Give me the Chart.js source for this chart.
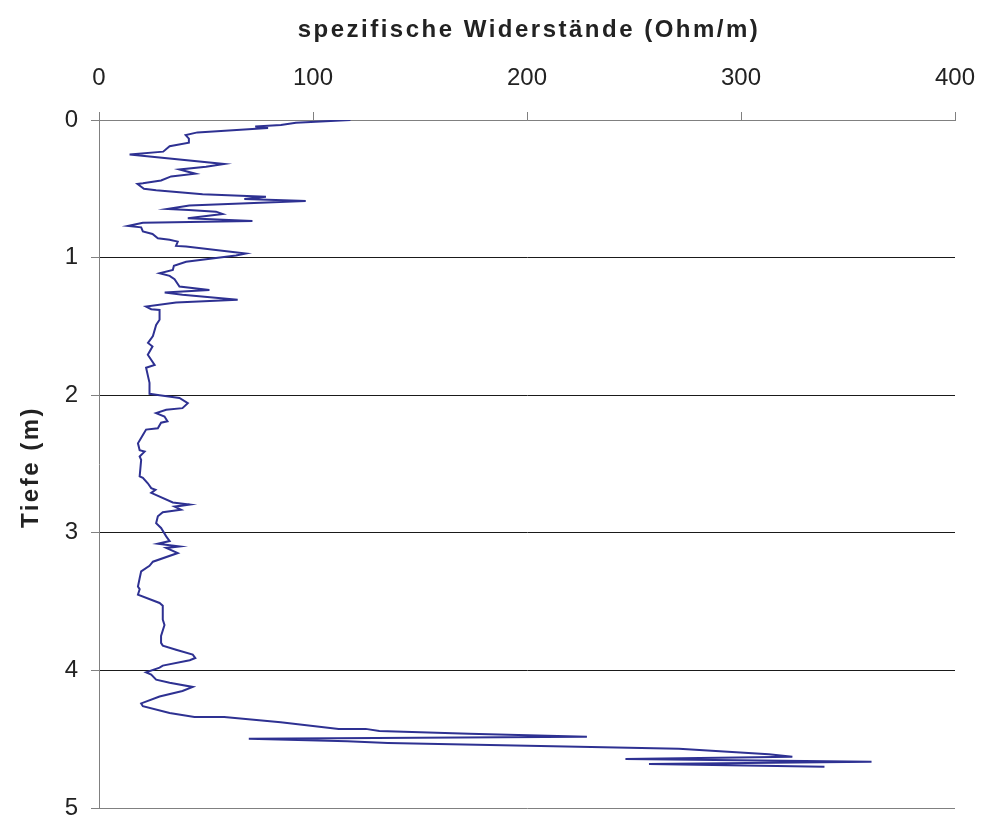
<!DOCTYPE html>
<html>
<head>
<meta charset="utf-8">
<title>spezifische Widerstände</title>
<script src="https://cdn.jsdelivr.net/npm/chart.js@4/dist/chart.umd.min.js"></script>
<style>
  html, body { margin: 0; padding: 0; background: #fff; }
  #wrap { width: 982px; height: 819px; }
</style>
</head>
<body>
<div id="wrap"><canvas id="resChart"></canvas></div>
<script>
// ===============================
// Data
// ===============================
const xTitle = "spezifische Widerstände (Ohm/m)";
const yTitle = "Tiefe (m)";
const xTickValues = [0, 100, 200, 300, 400];
const yTickValues = [0, 1, 2, 3, 4, 5];

// depth in m
const depths = [
    0.000, 0.020, 0.036, 0.048, 0.058, 0.090, 0.110, 0.135, 0.165, 0.190,
    0.230, 0.250, 0.320, 0.340, 0.360, 0.390, 0.410, 0.440, 0.460, 0.465,
    0.500, 0.510, 0.540, 0.557, 0.574, 0.586, 0.588, 0.622, 0.646, 0.654,
    0.666, 0.683, 0.714, 0.734, 0.746, 0.770, 0.780, 0.810, 0.828, 0.860,
    0.870, 0.884, 0.915, 0.920, 0.970, 0.985, 1.030, 1.060, 1.090, 1.114,
    1.133, 1.157, 1.210, 1.235, 1.247, 1.254, 1.270, 1.307, 1.327, 1.356,
    1.375, 1.380, 1.452, 1.489, 1.570, 1.620, 1.646, 1.706, 1.780, 1.800,
    1.910, 1.990, 2.000, 2.020, 2.058, 2.094, 2.106, 2.130, 2.155, 2.190,
    2.200, 2.240, 2.250, 2.290, 2.350, 2.400, 2.410, 2.445, 2.470, 2.590,
    2.600, 2.640, 2.675, 2.687, 2.710, 2.780, 2.795, 2.810, 2.832, 2.850,
    2.880, 2.930, 2.965, 3.026, 3.060, 3.080, 3.099, 3.110, 3.147, 3.210,
    3.240, 3.280, 3.330, 3.390, 3.410, 3.450, 3.510, 3.530, 3.630, 3.670,
    3.750, 3.800, 3.820, 3.850, 3.885, 3.910, 3.926, 3.965, 3.980, 4.014,
    4.030, 4.067, 4.090, 4.120, 4.150, 4.190, 4.240, 4.260, 4.310, 4.338,
    4.338, 4.377, 4.425, 4.425, 4.440, 4.460, 4.483, 4.497, 4.515, 4.527,
    4.556, 4.570, 4.610, 4.628, 4.643, 4.663, 4.680, 4.700
];

// resistivity in Ohm/m
const resistances = [
    117.5, 92, 85, 73, 79, 46, 40.5, 42, 42, 33,
    30, 14.3, 58.5, 50, 37.6, 45, 33.7, 29, 20.5, 18,
    21, 26.7, 48.4, 78, 67.9, 93.5, 96.6, 42.2, 32, 42,
    54.7, 57.8, 41.5, 71.7, 20.5, 13.5, 19.7, 20.5, 25, 27.5,
    33, 36.8, 36, 40.7, 68.6, 64, 40.7, 35, 34.5, 28.3,
    33, 35.3, 37.6, 51.6, 39, 30.7, 39, 64.8, 36, 22,
    24.4, 28.3, 28.3, 26.7, 25.2, 22.9, 25, 22.8, 26, 22,
    23.6, 23.6, 28.3, 37.6, 41.5, 39, 31.4, 26.7, 30.6, 32,
    29, 27.5, 22, 20.5, 18.2, 19, 21.3, 19, 19.7, 19,
    20.5, 22.8, 24.4, 26.4, 24.4, 34.5, 42.3, 35.3, 38.3, 29.8,
    27.5, 26.7, 29, 31.4, 33, 27.5, 37.6, 31.4, 36.8, 25.2,
    23.6, 19.7, 19, 18.2, 19, 18.2, 28.3, 29.8, 29.8, 30.6,
    29, 29, 29.8, 36, 43.8, 45, 42.4, 29.8, 28.3, 22,
    24.4, 26.7, 33, 43.8, 39, 28.3, 19.7, 20.5, 33, 44.6,
    58.5, 84.9, 112, 124.6, 131, 173, 228, 70, 116, 135,
    230, 271, 313, 324, 246, 361, 257, 339
];

// ===============================
// Axis titles (letter-spaced like the original)
// ===============================
const fontFamily = '"Liberation Sans", Arial, sans-serif';

const axisTitles = {
    id: "axisTitles",
    afterDraw(chart) {
        const { ctx, chartArea } = chart;
        ctx.save();
        ctx.font = "bold 24px " + fontFamily;
        ctx.letterSpacing = "2.5px";
        ctx.fillStyle = "#222";
        ctx.textAlign = "center";
        ctx.textBaseline = "alphabetic";
        ctx.fillText(xTitle, (chartArea.left + chartArea.right) / 2 + 2, 37);
        ctx.translate(38, (chartArea.top + chartArea.bottom) / 2 + 3);
        ctx.rotate(-Math.PI / 2);
        ctx.fillText(yTitle, 0, 0);
        ctx.restore();
    }
};

// ===============================
// Chart
// ===============================
const points = depths.map((d, i) => ({ x: resistances[i], y: d }));

new Chart(document.getElementById("resChart"), {
    type: "scatter",
    data: {
        datasets: [{
            data: points,
            showLine: true,
            borderColor: "#2e3192",
            borderWidth: 2,
            pointRadius: 0,
            tension: 0
        }]
    },
    options: {
        responsive: true,
        maintainAspectRatio: false,
        animation: false,
        layout: { padding: { top: 0, left: 0, right: 27, bottom: 11 } },
        plugins: {
            legend: { display: false },
            tooltip: { enabled: false }
        },
        scales: {
            x: {
                type: "linear",
                position: "top",
                min: 0,
                max: 400,
                afterBuildTicks: s => { s.ticks = xTickValues.map(v => ({ value: v })); },
                afterFit: s => {
                    s.height = 120;
                    s.paddingLeft = 0;
                    s.paddingRight = 0;
                },
                ticks: {
                    color: "#222",
                    font: { family: fontFamily, size: 24 },
                    padding: 19,
                    maxRotation: 0
                },
                grid: {
                    drawOnChartArea: false,
                    tickLength: 8,
                    tickColor: "#808080"
                },
                border: { color: "#808080", width: 1 }
            },
            y: {
                type: "linear",
                reverse: true,
                min: 0,
                max: 5,
                afterBuildTicks: s => { s.ticks = yTickValues.map(v => ({ value: v })); },
                afterFit: s => {
                    s.width = 99;
                    s.paddingTop = 0;
                    s.paddingBottom = 0;
                },
                ticks: {
                    color: "#222",
                    font: { family: fontFamily, size: 24 },
                    padding: 13
                },
                grid: {
                    tickLength: 8,
                    tickColor: "#808080",
                    color: c => (c.tick && c.tick.value > 0 && c.tick.value < 5) ? "#1a1a1a" : "#808080",
                    lineWidth: 1
                },
                border: { color: "#808080", width: 1 }
            }
        }
    },
    plugins: [axisTitles]
});
</script>
</body>
</html>
